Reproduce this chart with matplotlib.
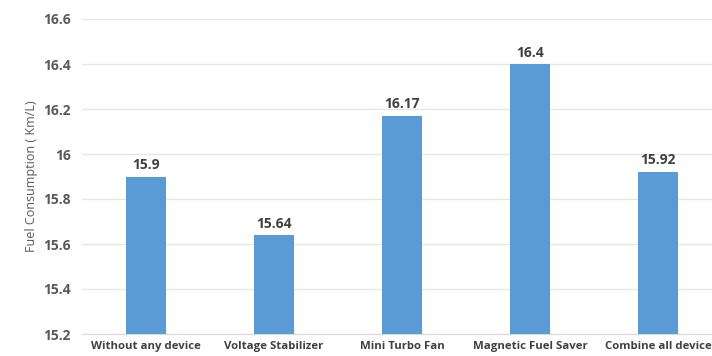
import matplotlib
matplotlib.use("Agg")
import matplotlib.pyplot as plt

devices = ['Without any device', 'Voltage Stabilizer', 'Mini Turbo Fan',
           'Magnetic Fuel Saver', 'Combine all device']
consumption = [15.9, 15.64, 16.17, 16.4, 15.92]
labels = ['15.9', '15.64', '16.17', '16.4', '15.92']
yticks = [15.2, 15.4, 15.6, 15.8, 16.0, 16.2, 16.4, 16.6]
ytick_labels = ['15.2', '15.4', '15.6', '15.8', '16', '16.2', '16.4', '16.6']

plt.rcParams['font.family'] = ['Open Sans', 'DejaVu Sans']
grey = '#595959'

fig = plt.figure(figsize=(7.12, 3.56), dpi=100)
ax = fig.add_axes([82/712, 22/356, 630/712, 315/356])

x = range(len(devices))
bars = ax.bar(x, consumption, width=0.31, color='#5b9bd5', bottom=0, zorder=3)

for i, v in enumerate(consumption):
    ax.text(i, v + 0.02, labels[i], ha='center', va='bottom',
            fontsize=10, fontweight='bold', color='#404040')

ax.set_ylim(15.2, 16.6)
ax.set_xlim(-0.5, -0.5 + 630/128)
ax.set_yticks(yticks)
ax.set_yticklabels(ytick_labels, fontsize=10, fontweight='bold', color=grey)
ax.set_xticks(list(x))
ax.set_xticklabels(devices, fontsize=8.2, fontweight='bold', color='#404040')
ax.set_ylabel('Fuel Consumption ( Km/L)', fontsize=9, color=grey, labelpad=4)

ax.grid(axis='y', color='#e6e6e6', linewidth=1, zorder=0)
for s in ['top', 'right', 'left']:
    ax.spines[s].set_visible(False)
ax.spines['bottom'].set_color('#d9d9d9')
ax.tick_params(axis='both', length=0, pad=8)
ax.tick_params(axis='x', pad=5)

fig.savefig('out.png', dpi=100)
